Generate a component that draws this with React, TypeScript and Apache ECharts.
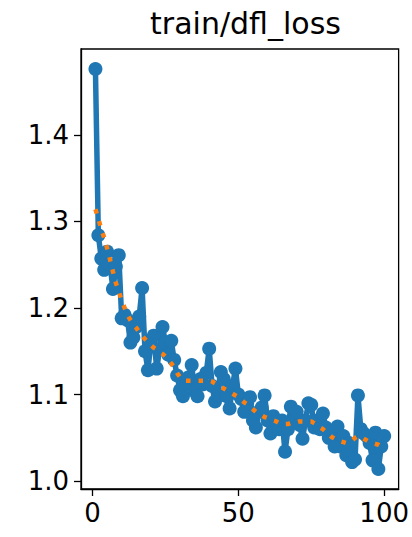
import React, { useEffect, useRef } from "react";
import * as echarts from "echarts";

const epochs: number[] = Array.from({ length: 100 }, (_, i) => i + 1);

const dflLoss: number[] = [
  1.476, 1.284, 1.257, 1.244, 1.265, 1.250, 1.222, 1.248, 1.261, 1.188,
  1.192, 1.186, 1.160, 1.166, 1.178, 1.190, 1.223, 1.150, 1.128, 1.160,
  1.168, 1.130, 1.152, 1.178, 1.160, 1.146, 1.162, 1.140, 1.122, 1.105,
  1.098, 1.112, 1.120, 1.134, 1.104, 1.098, 1.118, 1.112, 1.125, 1.153,
  1.110, 1.092, 1.100, 1.126, 1.118, 1.098, 1.084, 1.110, 1.130, 1.100,
  1.095, 1.080, 1.090, 1.097, 1.070, 1.062, 1.080, 1.085, 1.099, 1.070,
  1.055, 1.075, 1.070, 1.060, 1.070, 1.034, 1.060, 1.086, 1.072, 1.080,
  1.065, 1.049, 1.070, 1.090, 1.088, 1.062, 1.070, 1.060, 1.078, 1.062,
  1.050, 1.058, 1.040, 1.063, 1.040, 1.052, 1.030, 1.044, 1.022, 1.025,
  1.099, 1.060, 1.055, 1.052, 1.044, 1.024, 1.056, 1.014, 1.040, 1.052,
];

const smoothLoss: number[] = [
  1.314, 1.303, 1.291, 1.281, 1.269, 1.256, 1.242, 1.229, 1.219, 1.209,
  1.200, 1.192, 1.186, 1.181, 1.177, 1.172, 1.168, 1.164, 1.160, 1.157,
  1.154, 1.152, 1.149, 1.147, 1.144, 1.140, 1.136, 1.131, 1.125, 1.120,
  1.117, 1.116, 1.116, 1.116, 1.116, 1.116, 1.116, 1.116, 1.116, 1.116,
  1.115, 1.113, 1.111, 1.109, 1.107, 1.105, 1.103, 1.101, 1.099, 1.097,
  1.094, 1.091, 1.089, 1.086, 1.083, 1.080, 1.078, 1.076, 1.074, 1.073,
  1.072, 1.070, 1.069, 1.067, 1.066, 1.066, 1.066, 1.067, 1.068, 1.068,
  1.069, 1.069, 1.069, 1.069, 1.069, 1.067, 1.065, 1.062, 1.060, 1.057,
  1.054, 1.051, 1.049, 1.047, 1.046, 1.045, 1.044, 1.045, 1.047, 1.050,
  1.052, 1.051, 1.049, 1.047, 1.045, 1.044, 1.043, 1.042, 1.040, 1.039,
];

const xTicks: number[] = [0, 50, 100];
const yTicks: number[] = [1.0, 1.1, 1.2, 1.3, 1.4];

const FONT = "DejaVu Sans";

export default function App() {
  const ref = useRef<HTMLDivElement>(null);
  useEffect(() => {
    if (!ref.current) return;
    const chart = echarts.init(ref.current, null, { renderer: "svg" });
    const n = epochs.length;
    const xMin = epochs[0], xMax = epochs[n - 1];
    const xPad = (xMax - xMin) * 0.05;
    const yLo = Math.min(...dflLoss, ...smoothLoss);
    const yHi = Math.max(...dflLoss, ...smoothLoss);
    const yPad = (yHi - yLo) * 0.05;
    chart.setOption({
      animation: false,
      title: {
        text: "train/dfl_loss",
        left: 240.5,
        textAlign: "center",
        top: 3,
        textStyle: { fontFamily: FONT, fontSize: 30, fontWeight: "normal", color: "#000" },
      },
      grid: {
        left: 81,
        right: 12,
        top: 49,
        bottom: 48,
        show: true,
        borderColor: "#000",
        borderWidth: 1.3,
        containLabel: false,
      },
      xAxis: {
        type: "value",
        min: xMin - xPad,
        max: xMax + xPad,
        splitLine: { show: false },
        axisLine: { show: true, onZero: false, lineStyle: { color: "#000", width: 1.3 } },
        axisTick: { show: true, customValues: xTicks, length: 7, lineStyle: { color: "#000", width: 1.3 } },
        axisLabel: {
          customValues: xTicks,
          margin: 11,
          fontFamily: FONT,
          fontSize: 26,
          color: "#000",
          formatter: (v: number) => String(Math.round(v)),
        },
      },
      yAxis: {
        type: "value",
        min: yLo - yPad,
        max: yHi + yPad,
        splitLine: { show: false },
        axisLine: { show: true, onZero: false, lineStyle: { color: "#000", width: 1.3 } },
        axisTick: { show: true, customValues: yTicks, length: 7, lineStyle: { color: "#000", width: 1.3 } },
        axisLabel: {
          customValues: yTicks,
          margin: 12,
          fontFamily: FONT,
          fontSize: 26,
          color: "#000",
          formatter: (v: number) => v.toFixed(1),
        },
      },
      series: [
        {
          type: "line",
          data: epochs.map((e, i) => [e, dflLoss[i]]),
          symbol: "circle",
          symbolSize: 14,
          showAllSymbol: true,
          itemStyle: { color: "#1f77b4" },
          lineStyle: { color: "#1f77b4", width: 5.5 },
          z: 2,
        },
        {
          type: "line",
          data: epochs.map((e, i) => [e, smoothLoss[i]]),
          symbol: "none",
          lineStyle: { color: "#ff7f0e", width: 4.5, type: [4.5, 8], cap: "butt" },
          z: 3,
        },
      ],
    });
    return () => chart.dispose();
  }, []);
  return <div ref={ref} style={{ width: 412, height: 537, position: "absolute", left: 0, top: 0 }} />;
}
